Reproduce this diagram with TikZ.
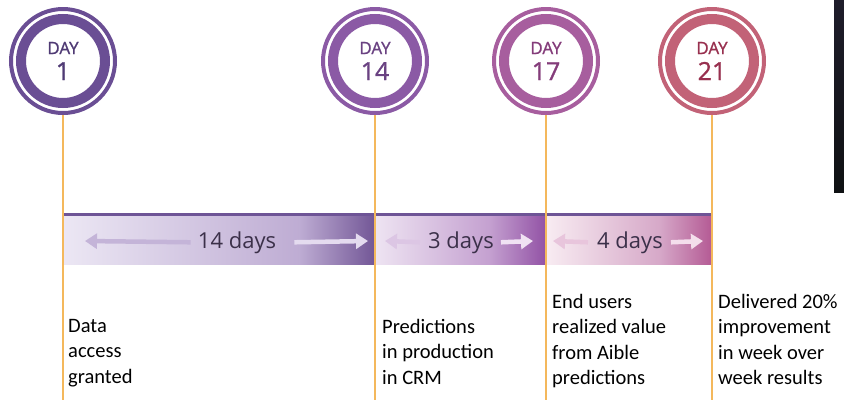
\documentclass[tikz,border=0pt]{standalone}
\usepackage{fontspec}
\setmainfont{Carlito}
\newfontfamily\osans{Open Sans}
\newfontfamily\osanssemi{Open Sans}[FakeBold=1.1]
\usetikzlibrary{arrows.meta}

% ring and text colours, one set per milestone
\definecolor{ringA}{HTML}{6A4E94}\definecolor{textA}{HTML}{4F3A74}
\definecolor{ringB}{HTML}{8B5AA5}\definecolor{textB}{HTML}{6A4282}
\definecolor{ringC}{HTML}{A75E9E}\definecolor{textC}{HTML}{843C7A}
\definecolor{ringD}{HTML}{C26277}\definecolor{textD}{HTML}{98304F}
\definecolor{stemline}{HTML}{F4B85C}
\definecolor{stripe}{HTML}{6E5496}
\definecolor{spantext}{HTML}{3B3049}
\definecolor{darkstripA}{HTML}{1F1D2B}\definecolor{darkstripB}{HTML}{0F1113}
% bar shading stops
\definecolor{barAa}{HTML}{ECE7F4}\definecolor{barAb}{HTML}{BEACD3}\definecolor{barAc}{HTML}{725696}
\definecolor{barBa}{HTML}{EEE4F2}\definecolor{barBb}{HTML}{C4A0D0}\definecolor{barBc}{HTML}{9252A5}
\definecolor{barCa}{HTML}{F8ECF2}\definecolor{barCb}{HTML}{D6A8C8}\definecolor{barCc}{HTML}{B45A94}
% arrow colours
\definecolor{arrAl}{HTML}{C4B4D8}\definecolor{arrAr}{HTML}{E4DBEF}
\definecolor{arrBl}{HTML}{DCC6E4}\definecolor{arrBr}{HTML}{F0E2F3}
\definecolor{arrCl}{HTML}{E8C5DC}\definecolor{arrCr}{HTML}{F4DEEC}

\tikzset{
  dayring/.style n args={2}{circle, draw=#1, line width=10pt, minimum size=84pt,
    inner sep=0pt, fill=white, text=#2, align=center,
    font=\osanssemi\fontsize{17}{26}\selectfont},
  outerring/.style={draw=#1, line width=4pt},
  stem/.style={draw=stemline, line width=1.5pt},
  spanarrow/.style={draw=#1, line width=4.5pt, -{Triangle[length=12pt,width=15pt]}},
  spanlabel/.style={anchor=base, inner sep=0pt, text=spantext,
    font=\osans\fontsize{22}{26}\selectfont},
  note/.style={anchor=north west, inner sep=0pt, align=left,
    font=\fontsize{20.5}{25.5}\selectfont},
}

\newcommand{\daybox}[1]{DAY\\{\fontsize{25}{26}\selectfont #1}}

\begin{document}
\begin{tikzpicture}[x=1pt,y=-1pt]
\useasboundingbox (0,0) rectangle (844,400);

% dark strip at the right edge
\shade[top color=darkstripA, bottom color=darkstripB] (834,0) rectangle (844,192);

% shaded duration bars
\shade[left color=barAa, right color=barAb] (63,216) rectangle (300,264);
\shade[left color=barAb, right color=barAc] (299.5,216) rectangle (375,264);
\shade[left color=barBa, right color=barBb] (375,216) rectangle (490,264);
\shade[left color=barBb, right color=barBc] (489.5,216) rectangle (546,264);
\shade[left color=barCa, right color=barCb] (546,216) rectangle (660,264);
\shade[left color=barCb, right color=barCc] (659.5,216) rectangle (712,264);
\fill[stripe] (63,213) rectangle (712,216);

% milestone rings
\node[dayring={ringA}{textA}] (d1)  at (63,61)  {\daybox{1}};
\node[dayring={ringB}{textB}] (d14) at (375,61) {\daybox{14}};
\node[dayring={ringC}{textC}] (d17) at (546,61) {\daybox{17}};
\node[dayring={ringD}{textD}] (d21) at (712,61) {\daybox{21}};
\draw[outerring=ringA] (d1.center)  circle[radius=52pt];
\draw[outerring=ringB] (d14.center) circle[radius=52pt];
\draw[outerring=ringC] (d17.center) circle[radius=52pt];
\draw[outerring=ringD] (d21.center) circle[radius=52pt];

% stems down from each ring
\coordinate (e1)  at (63,400);
\coordinate (e14) at (375,400);
\coordinate (e17) at (546,400);
\coordinate (e21) at (712,400);
\draw[stem] ([yshift=-7pt]d1.south)  -- (e1);
\draw[stem] ([yshift=-7pt]d14.south) -- (e14);
\draw[stem] ([yshift=-7pt]d17.south) -- (e17);
\draw[stem] ([yshift=-7pt]d21.south) -- (e21);

% durations
\node[spanlabel] (s1) at (237,248) {14 days};
\node[spanlabel] (s2) at (461,248) {3 days};
\node[spanlabel] (s3) at (630,248) {4 days};

\coordinate (s1l) at (85,241);  \coordinate (s1r) at (368,241);
\coordinate (s2l) at (385,241); \coordinate (s2r) at (533,241);
\coordinate (s3l) at (553,241); \coordinate (s3r) at (703,241);
\draw[spanarrow=arrAl] ([xshift=-7pt]s1.west) -- (s1l);
\draw[spanarrow=arrAr] ([xshift=18pt]s1.east) -- (s1r);
\draw[spanarrow=arrBl] ([xshift=-8pt]s2.west) -- (s2l);
\draw[spanarrow=arrBr] ([xshift=7pt]s2.east) -- (s2r);
\draw[spanarrow=arrCl] ([xshift=-9pt]s3.west) -- (s3l);
\draw[spanarrow=arrCr] ([xshift=8pt]s3.east) -- (s3r);

% milestone notes
\node[note] (n1)  at (68,319)  {Data\\access\\granted};
\node[note] (n14) at (382,319) {Predictions\\in production\\in CRM};
\node[note] (n17) at (552,294) {End users\\realized value\\from Aible\\predictions};
\node[note] (n21) at (718,294) {Delivered 20\%\\improvement\\in week over\\week results};
\end{tikzpicture}
\end{document}
